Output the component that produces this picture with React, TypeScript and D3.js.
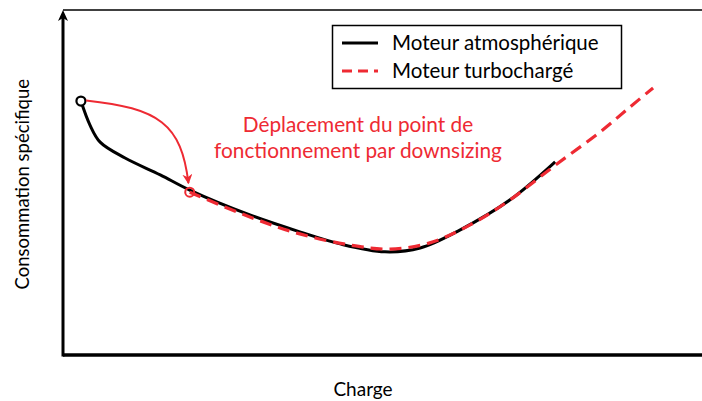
import React from 'react';
import * as d3 from 'd3';

// charge (0-100) / consommation spécifique (0-100)
const atmoCharge = [2.8, 4.2, 5.8, 9.7, 15.2, 19.8, 29.2, 37.0, 43.3, 50.3, 55.8, 62.0, 69.8, 76.9];
const atmoConso = [73.6, 66.7, 61.7, 57.1, 52.2, 47.8, 40.6, 35.7, 32.2, 29.9, 31.0, 36.2, 44.9, 56.0];

const turboCharge = [19.8, 29.2, 37.0, 44.8, 51.1, 57.3, 63.6, 69.8, 76.9, 83.9, 88.6, 92.2];
const turboConso = [47.2, 40.0, 35.1, 31.9, 30.7, 32.5, 37.7, 44.9, 55.0, 64.6, 71.9, 77.4];

// arrow: start, two control points, end (same units)
const arrowCharge = [3.6, 15.0, 18.5, 19.6];
const arrowConso = [73.8, 71.5, 67.0, 49.8];

const legendLabels = ['Moteur atmosphérique', 'Moteur turbochargé'];
const annotationLines = ['Déplacement du point de', 'fonctionnement par downsizing'];
const xLabel = 'Charge';
const yLabel = 'Consommation spécifique';

const width = 702,
  height = 401;
const red = '#ee2a33';
const font = 'Lato, "Noto Sans", sans-serif';

export default function App() {
  const x = d3.scaleLinear().domain([0, 100]).range([63, 703]);
  const y = d3.scaleLinear().domain([0, 100]).range([355, 10]);

  const atmoPath = d3
    .line<number>()
    .x((d) => x(d))
    .y((d, i) => y(atmoConso[i]))
    .curve(d3.curveCatmullRom.alpha(0.5))(atmoCharge) || '';
  const turboPath = d3
    .line<number>()
    .x((d) => x(d))
    .y((d, i) => y(turboConso[i]))
    .curve(d3.curveCatmullRom.alpha(0.5))(turboCharge) || '';

  const p = d3.path();
  p.moveTo(x(arrowCharge[0]), y(arrowConso[0]));
  p.bezierCurveTo(
    x(arrowCharge[1]), y(arrowConso[1]),
    x(arrowCharge[2]), y(arrowConso[2]),
    x(arrowCharge[3]), y(arrowConso[3])
  );

  return (
    <svg width={width} height={height} style={{ position: 'absolute', left: 0, top: 0, background: '#fff' }}>
      <defs>
        <marker id="redhead" viewBox="0 0 10 10" refX="9" refY="5" markerWidth="5" markerHeight="5" orient="auto">
          <path d="M0,0 L10,5 L0,10 L3,5 z" fill={red} />
        </marker>
      </defs>

      {/* frame top and axes */}
      <line x1={x(0)} x2={width} y1={y(100)} y2={y(100)} stroke="#000" strokeWidth={1.5} />
      <line x1={x(0)} x2={width} y1={y(0)} y2={y(0)} stroke="#000" strokeWidth={3.5} />
      <line x1={x(0)} x2={x(0)} y1={y(0) + 1.5} y2={y(100) + 8} stroke="#000" strokeWidth={3} />
      <path
        d={`M${x(0)},${y(100)} L${x(0) - 5},${y(100) + 11} L${x(0)},${y(100) + 8} L${x(0) + 5},${y(100) + 11} Z`}
        fill="#000"
      />

      {/* curves */}
      <path d={atmoPath} fill="none" stroke="#000" strokeWidth={3} />
      <path d={turboPath} fill="none" stroke={red} strokeWidth={3.2} strokeDasharray="12 7" />

      {/* points */}
      <circle cx={x(atmoCharge[0])} cy={y(atmoConso[0])} r={4.5} fill="#fff" stroke="#000" strokeWidth={2.2} />
      <path d={p.toString()} fill="none" stroke={red} strokeWidth={2} markerEnd="url(#redhead)" />
      <circle cx={x(turboCharge[0])} cy={y(turboConso[0])} r={4.5} fill="none" stroke={red} strokeWidth={2} />

      {/* annotation */}
      {annotationLines.map((t, i) => (
        <text key={t} x={358} y={132 + i * 26} textAnchor="middle" fill={red} fontFamily={font} fontSize={20.8}>
          {t}
        </text>
      ))}

      {/* legend */}
      <rect x={332.5} y={25.5} width={289} height={63} fill="#fff" stroke="#000" strokeWidth={1.5} />
      <line x1={342} x2={378} y1={43} y2={43} stroke="#000" strokeWidth={3} />
      <line x1={342} x2={378} y1={71} y2={71} stroke={red} strokeWidth={3} strokeDasharray="10 6" />
      {legendLabels.map((t, i) => (
        <text key={t} x={392} y={50 + i * 28} fill="#000" fontFamily={font} fontSize={20.5}>
          {t}
        </text>
      ))}

      {/* axis labels */}
      <text x={363} y={396} textAnchor="middle" fontFamily={font} fontSize={19}>
        {xLabel}
      </text>
      <text
        transform={`translate(29, ${y(49.5)}) rotate(-90)`}
        textAnchor="middle"
        fontFamily={font}
        fontSize={18.5}
      >
        {yLabel}
      </text>
    </svg>
  );
}
